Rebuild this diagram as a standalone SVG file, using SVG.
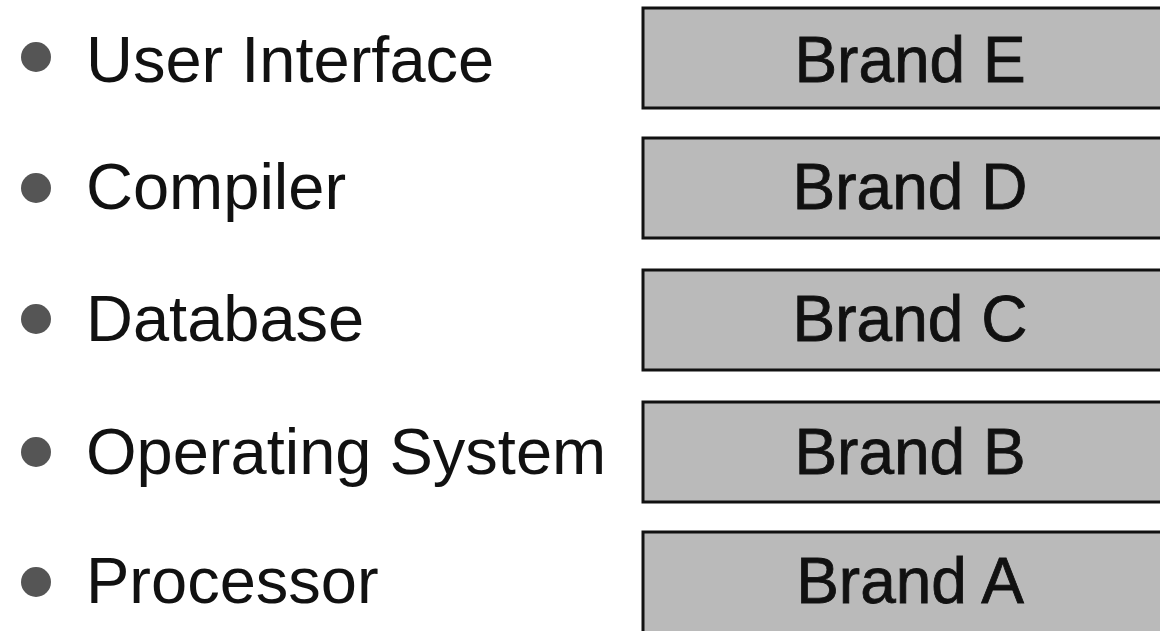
<svg xmlns="http://www.w3.org/2000/svg" width="1160" height="631" viewBox="0 0 1160 631">
<style>
.lbl{font-family:"Liberation Sans",Arial,sans-serif;font-size:65px;fill:#111;}
.brand{font-family:"Liberation Sans",Arial,sans-serif;font-size:64px;fill:#111;text-anchor:middle;stroke:#111;stroke-width:0.8;}
.bullet{fill:#555;}
.box{fill:#bababa;stroke:#111;stroke-width:3;}
</style>
<rect width="1160" height="631" fill="#fff"/>
<g id="item-user-interface"><circle class="bullet" cx="36" cy="57" r="15"/><text class="lbl" x="86" y="82">User Interface</text></g>
<g id="item-compiler"><circle class="bullet" cx="36" cy="188" r="15"/><text class="lbl" x="86" y="209">Compiler</text></g>
<g id="item-database"><circle class="bullet" cx="36" cy="319" r="15"/><text class="lbl" x="86" y="341">Database</text></g>
<g id="item-operating-system"><circle class="bullet" cx="36" cy="452" r="15"/><text class="lbl" x="86" y="474">Operating System</text></g>
<g id="item-processor"><circle class="bullet" cx="36" cy="582" r="15"/><text class="lbl" x="86" y="603">Processor</text></g>
<g id="brand-e"><rect class="box" x="643" y="8" width="540" height="100"/><text class="brand" x="910" y="82">Brand E</text></g>
<g id="brand-d"><rect class="box" x="643" y="138" width="540" height="100"/><text class="brand" x="910" y="209">Brand D</text></g>
<g id="brand-c"><rect class="box" x="643" y="270" width="540" height="100"/><text class="brand" x="910" y="341">Brand C</text></g>
<g id="brand-b"><rect class="box" x="643" y="402" width="540" height="100"/><text class="brand" x="910" y="474">Brand B</text></g>
<g id="brand-a"><rect class="box" x="643" y="532" width="540" height="110"/><text class="brand" x="910" y="603">Brand A</text></g>
<g id="connectors"></g>
</svg>
